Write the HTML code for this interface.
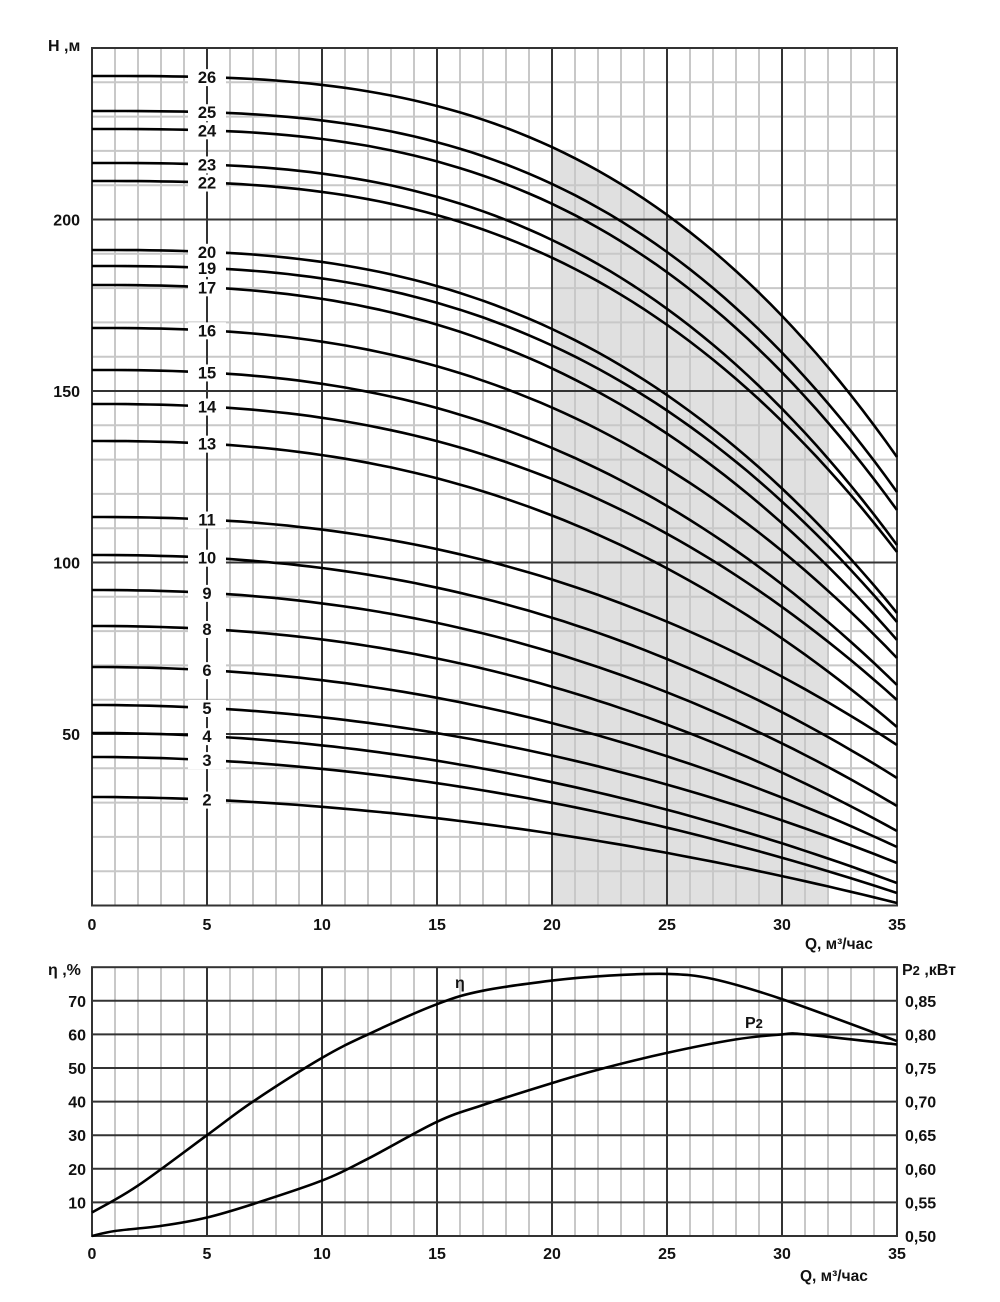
<!DOCTYPE html>
<html><head><meta charset="utf-8"><style>
body{margin:0;background:#fff}
svg text{font-family:"Liberation Sans",Arial,sans-serif;font-weight:bold;fill:#111}
</style></head><body>
<svg id="s" width="1000" height="1297" viewBox="0 0 1000 1297" xmlns="http://www.w3.org/2000/svg"></svg>
<script>
const s=document.getElementById('s');let out='';
const X=q=>92+q*23;
const Y=h=>905.5-h*3.43;
const YB=e=>1236-e*3.36;
function H(c,q){const p=1.9+(c.n-2)/24*1.1;return c.h0-c.D*Math.pow(q/35,p);}
const ys={26:[76,457],25:[111,492],24:[129,510],23:[163,545],22:[181,552],20:[250,613],19:[266,622],17:[285,640],16:[328,658],15:[370,685],14:[404,700],13:[441,727],11:[517,745],10:[555,778],9:[590,806],8:[626,831],6:[667,847],5:[705,863],4:[733,883],3:[757,893],2:[797,903]};
const curves=[];for(const k in ys){const h0=(905.5-ys[k][0])/3.43,h1=(905.5-ys[k][1])/3.43;curves.push({n:+k,h0,D:h0-h1});}
const c26=curves.find(c=>c.n==26);
let sp='M552,905.5 ';for(let q=20;q<=32.001;q+=0.5)sp+='L'+X(q).toFixed(1)+','+Y(H(c26,q)).toFixed(1)+' ';sp+='L828,905.5Z';
out+=`<path d="${sp}" fill="#e0e0e0"/>`;
for(let q=0;q<=35;q++){if(q%5)out+=`<line x1="${X(q)}" y1="48" x2="${X(q)}" y2="905.5" stroke="#c8c8c8" stroke-width="2"/>`;}
for(let h=10;h<=250;h+=10){if(h%50)out+=`<line x1="92" y1="${Y(h)}" x2="897" y2="${Y(h)}" stroke="#c8c8c8" stroke-width="2"/>`;}
for(let q=5;q<35;q+=5)out+=`<line x1="${X(q)}" y1="48" x2="${X(q)}" y2="905.5" stroke="#333" stroke-width="2"/>`;
for(let h=50;h<=200;h+=50)out+=`<line x1="92" y1="${Y(h)}" x2="897" y2="${Y(h)}" stroke="#333" stroke-width="2"/>`;
out+=`<rect x="92" y="48" width="805" height="857.5" fill="none" stroke="#333" stroke-width="2"/>`;
curves.forEach(c=>{let d='';for(let q=0;q<=35.001;q+=0.5)d+=(q?'L':'M')+X(q).toFixed(1)+','+Y(H(c,q)).toFixed(1)+' ';out+=`<path d="${d}" fill="none" stroke="#000" stroke-width="2.6"/>`;});
curves.forEach(c=>{const y=Y(H(c,5));out+=`<rect x="188" y="${y-8}" width="38" height="17" fill="#fff"/><text x="207" y="${y+6}" font-size="16.5" text-anchor="middle">${c.n}</text>`;});
[0,5,10,15,20,25,30,35].forEach(q=>out+=`<text x="${X(q)}" y="930" font-size="16" text-anchor="middle">${q}</text>`);
[50,100,150,200].forEach(h=>out+=`<text x="80" y="${Y(h)+6}" font-size="16" text-anchor="end">${h}</text>`);
out+=`<text x="48" y="51" font-size="16">Н ,м</text><text x="805" y="949" font-size="15.5">Q, м³/час</text>`;
const T=YB(80);
for(let q=0;q<=35;q++){if(q%5)out+=`<line x1="${X(q)}" y1="${T}" x2="${X(q)}" y2="1236" stroke="#c8c8c8" stroke-width="2"/>`;}
for(let q=5;q<35;q+=5)out+=`<line x1="${X(q)}" y1="${T}" x2="${X(q)}" y2="1236" stroke="#333" stroke-width="2"/>`;
for(let e=10;e<=70;e+=10)out+=`<line x1="92" y1="${YB(e)}" x2="897" y2="${YB(e)}" stroke="#333" stroke-width="2"/>`;
out+=`<rect x="92" y="${T}" width="805" height="${1236-T}" fill="none" stroke="#333" stroke-width="2"/>`;
function smooth(pts){let d='M'+pts[0][0]+','+pts[0][1];for(let i=0;i<pts.length-1;i++){const p0=pts[i-1]||pts[i],p1=pts[i],p2=pts[i+1],p3=pts[i+2]||p2;d+=` C${(p1[0]+(p2[0]-p0[0])/6).toFixed(1)},${(p1[1]+(p2[1]-p0[1])/6).toFixed(1)} ${(p2[0]-(p3[0]-p1[0])/6).toFixed(1)},${(p2[1]-(p3[1]-p1[1])/6).toFixed(1)} ${p2[0].toFixed(1)},${p2[1].toFixed(1)}`;}return d;}
const eta=[[0,7],[2,15],[5,30],[7,40],[10,53],[12,60],[15,69],[17,73],[20,76],[22.5,77.5],[25,78],[27,76.5],[30,70.5],[35,58]];
const p2=[[0,0],[1,1.5],[3,3],[5,5.5],[7,9.5],[10,16.5],[12,23],[15,34],[17,39],[20,45.5],[22,49.5],[25,54.5],[28,58.5],[30,60],[31,60],[35,57]];
[eta,p2].forEach(a=>out+=`<path d="${smooth(a.map(([q,e])=>[X(q),YB(e)]))}" fill="none" stroke="#000" stroke-width="2.6"/>`);
out+=`<text x="455" y="988" font-size="16">η</text><text x="745" y="1028" font-size="16">P<tspan font-size="13">2</tspan></text>`;
[10,20,30,40,50,60,70].forEach(e=>out+=`<text x="86" y="${YB(e)+6}" font-size="16" text-anchor="end">${e}</text>`);
['0,50','0,55','0,60','0,65','0,70','0,75','0,80','0,85'].forEach((t,i)=>out+=`<text x="905" y="${YB(i*10)+6}" font-size="16">${t}</text>`);
[0,5,10,15,20,25,30,35].forEach(q=>out+=`<text x="${X(q)}" y="1259" font-size="16" text-anchor="middle">${q}</text>`);
out+=`<text x="48" y="975" font-size="16">η ,%</text><text x="902" y="975" font-size="16">P<tspan font-size="13">2</tspan> ,кВт</text><text x="800" y="1281" font-size="15.5">Q, м³/час</text>`;
s.innerHTML=out;
</script>
</body></html>
